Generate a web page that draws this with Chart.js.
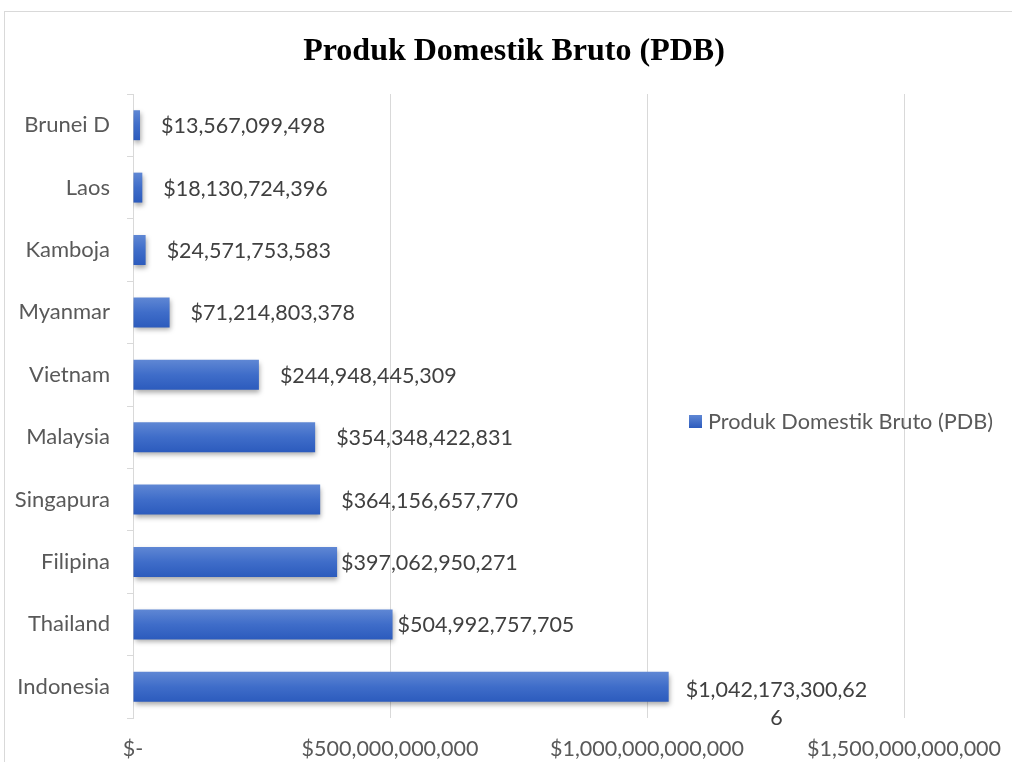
<!DOCTYPE html>
<html>
<head>
<meta charset="utf-8">
<script src="https://cdn.jsdelivr.net/npm/chart.js@4"></script>
<style>
  html, body { margin: 0; padding: 0; background: #fff; overflow: hidden; }
  #wrap { position: relative; width: 1012px; height: 762px; }
  #frame { position: absolute; left: 4px; top: 11px; width: 1100px; height: 800px; border: 1px solid #d9d9d9; }
  canvas { position: absolute; left: 0; top: 0; }
</style>
</head>
<body>
<div id="wrap">
  <div id="frame"></div>
  <canvas id="gdpChart" width="1012" height="762"></canvas>
</div>
<script>
// data
const chartTitle = "Produk Domestik Bruto (PDB)";
const categories = ["Brunei D", "Laos", "Kamboja", "Myanmar", "Vietnam", "Malaysia", "Singapura", "Filipina", "Thailand", "Indonesia"];
const gdpValues = [13567099498, 18130724396, 24571753583, 71214803378, 244948445309, 354348422831, 364156657770, 397062950271, 504992757705, 1042173300626];
const tickValues = [0, 500000000000, 1000000000000, 1500000000000];

const FONT = '"Lato", "Open Sans", sans-serif';

// some labels were moved by hand in the original
const labelNudge = { "Filipina": -17, "Thailand": -16, "Indonesia": -4 };

function money(v) {
  if (v === 0) return "$-";
  return "$" + v.toLocaleString("en-US");
}

// gradient fill per bar, like the office style
function barFill(context) {
  const chart = context.chart;
  const y = chart.scales.y;
  if (!y || !chart.chartArea || context.dataIndex === undefined) return "#4472c4";
  const yc = y.getPixelForValue(context.dataIndex);
  const half = (y.height / categories.length) * 0.48 / 2;
  const g = chart.ctx.createLinearGradient(0, yc - half, 0, yc + half);
  g.addColorStop(0, "#5f87d4");
  g.addColorStop(0.5, "#3f6dc9");
  g.addColorStop(1, "#2c5bbd");
  return g;
}

const barShadow = {
  id: "barShadow",
  beforeDatasetsDraw(chart) {
    const c = chart.ctx;
    c.save();
    c.shadowColor = "rgba(0,0,0,0.35)";
    c.shadowBlur = 5;
    c.shadowOffsetX = 1;
    c.shadowOffsetY = 3;
  },
  afterDatasetsDraw(chart) {
    chart.ctx.restore();
  }
};

const valueLabels = {
  id: "valueLabels",
  afterDatasetsDraw(chart) {
    const c = chart.ctx;
    const meta = chart.getDatasetMeta(0);
    c.save();
    c.font = "21.5px " + FONT;
    c.fillStyle = "#404040";
    c.textBaseline = "middle";
    meta.data.forEach((bar, i) => {
      const text = money(gdpValues[i]);
      const x = bar.x + 21 + (labelNudge[categories[i]] || 0);
      const y = bar.y + 1;
      if (text.length > 17) {
        // wraps like the original label box
        const first = text.slice(0, 17);
        const rest = text.slice(17);
        const cx = x + c.measureText(first).width / 2;
        c.textAlign = "center";
        c.fillText(first, cx, y + 2);
        c.fillText(rest, cx, y + 30);
      } else {
        c.textAlign = "left";
        c.fillText(text, x, y);
      }
    });
    c.restore();
  }
};

const titleAndLegend = {
  id: "titleAndLegend",
  afterDraw(chart) {
    const c = chart.ctx;
    c.save();
    c.fillStyle = "#000";
    c.font = "bold 32px \"Liberation Serif\", \"Times New Roman\", serif";
    c.textAlign = "center";
    c.textBaseline = "middle";
    c.fillText(chartTitle, 514, 52);

    const g = c.createLinearGradient(0, 415, 0, 428);
    g.addColorStop(0, "#5f87d4");
    g.addColorStop(1, "#2c5bbd");
    c.fillStyle = g;
    c.fillRect(689, 415, 13, 13);
    c.fillStyle = "#595959";
    c.font = "21.7px " + FONT;
    c.textAlign = "left";
    c.fillText(chart.data.datasets[0].label, 708, 422);
    c.restore();
  }
};

const ctx = document.getElementById("gdpChart").getContext("2d");
const gdpChart = new Chart(ctx, {
  type: "bar",
  data: {
    labels: categories,
    datasets: [
      {
        label: "Produk Domestik Bruto (PDB)",
        data: gdpValues,
        backgroundColor: barFill,
        borderWidth: 0,
        barPercentage: 0.48,
        categoryPercentage: 1.0
      }
    ]
  },
  options: {
    indexAxis: "y",
    responsive: false,
    animation: false,
    devicePixelRatio: 1,
    layout: { padding: { top: 94, right: 108, left: 0, bottom: 0 } },
    plugins: {
      legend: { display: false },
      title: { display: false },
      tooltip: { enabled: false }
    },
    scales: {
      x: {
        min: 0,
        max: 1500000000000,
        afterBuildTicks(scale) {
          scale.ticks = tickValues.map((v) => ({ value: v }));
        },
        afterFit(scale) {
          scale.height = 44;
          scale.paddingLeft = 0;
          scale.paddingRight = 0;
        },
        grid: { color: "#d9d9d9", drawTicks: false },
        border: { display: false },
        ticks: {
          padding: 18,
          color: "#595959",
          font: { family: FONT, size: 21.5 },
          maxRotation: 0,
          autoSkip: false,
          callback: (v) => money(v)
        }
      },
      y: {
        afterFit(scale) {
          scale.width = 133;
        },
        grid: { display: true, drawOnChartArea: false, offset: true, tickLength: 6, color: "#d9d9d9" },
        border: { color: "#d9d9d9" },
        ticks: {
          padding: 17,
          color: "#595959",
          font: { family: FONT, size: 22 }
        }
      }
    }
  },
  plugins: [barShadow, valueLabels, titleAndLegend]
});
</script>
</body>
</html>
